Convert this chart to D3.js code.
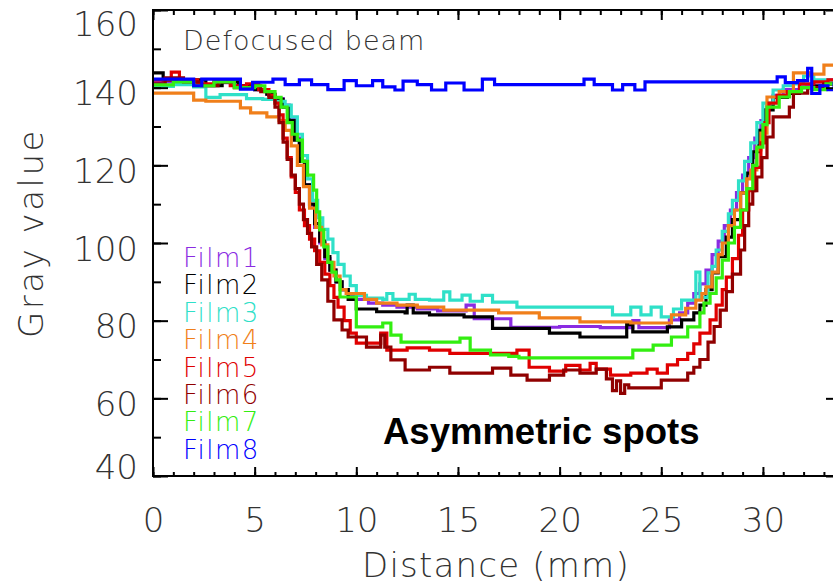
<!DOCTYPE html>
<html>
<head>
<meta charset="utf-8">
<script src="https://cdn.jsdelivr.net/npm/d3@7/dist/d3.min.js"></script>
<style>
  body { margin: 0; background: #fff; }
  svg { display: block; }
  text { font-family: "DejaVu Sans", sans-serif; }
</style>
</head>
<body>
<div id="chart"></div>
<script>
// profile data: [distance (mm), gray value]
var film1 = [[0,141.5],[1.0,142],[2.0,140.8],[3.0,141.3],[4.0,140.5],[5.0,139.5],[5.6,138.3],[6.0,137.2],[6.4,135.5],[6.7,132],[6.95,127],[7.2,121],[7.45,115],[7.7,109.5],[7.95,104],[8.2,100],[8.45,96],[8.7,93],[9.0,90],[9.3,88],[9.6,86.5],[10.0,85.5],[10.6,84.5],[11.3,84],[12.0,83.5],[13.0,83],[14.0,82.5],[15.4,84],[15.8,80.5],[17.6,78.3],[20.0,78.5],[22.0,78.2],[23.6,80],[23.9,78.2],[25.4,80.2],[25.9,82],[26.3,84.5],[26.6,87],[26.9,89.5],[27.2,93],[27.5,97],[27.8,100.5],[28.1,104.5],[28.4,108.5],[28.7,113],[29.0,117.5],[29.3,122],[29.6,127],[29.9,131.5],[30.2,135.5],[30.5,138],[31.0,139.5],[31.8,140.5],[32.5,141.5],[33.2,142],[33.84,142]];
var film2 = [[0,143.8],[0.5,142],[1.2,141],[2.0,142],[2.6,140.5],[3.4,141.5],[4.2,140.5],[5.0,139.5],[5.6,138.3],[6.0,137],[6.4,135],[6.7,131.5],[6.95,126.5],[7.2,121],[7.45,115],[7.7,110],[7.95,105],[8.2,100.5],[8.45,96.5],[8.7,93],[9.0,90],[9.3,88],[9.6,85.5],[10.0,83],[11.0,82.3],[12.4,82],[12.5,84],[12.8,82],[13.6,81.5],[15.3,81],[16.7,78],[19.5,76.8],[21.0,75.8],[23.3,79],[23.6,77.1],[25.3,78.4],[26.0,80.2],[26.6,82],[26.9,84],[27.2,88],[27.5,92.3],[27.8,96.5],[28.2,101.5],[28.5,106],[28.9,112.9],[29.2,118],[29.5,123.5],[29.8,129],[30.1,134.3],[30.5,137.5],[31.2,138.5],[31.8,140],[32.4,140.5],[33.0,141],[33.84,141.5]];
var film3 = [[0,140.3],[1.0,140.8],[2.0,140.2],[2.6,137.5],[3.3,138.2],[4.6,137.2],[5.4,137],[6.0,136.5],[6.5,135.5],[6.8,132.5],[7.1,128],[7.35,122.5],[7.6,116.5],[7.85,111],[8.1,106.5],[8.35,103.5],[8.6,101],[8.85,97.5],[9.1,94.5],[9.4,91.5],[9.7,89],[10.0,86.5],[10.5,85.8],[11.3,85.5],[11.5,87],[11.8,85.5],[12.6,86.8],[12.9,85.5],[13.6,85.3],[14.3,87.4],[14.6,85.3],[15.2,86.6],[15.6,85],[16.2,86.5],[16.7,84.8],[17.9,83.5],[22.6,81.5],[23.5,83.5],[24.0,81.5],[24.5,83.5],[25.0,81],[25.6,83],[26.0,85.3],[26.7,92.5],[26.9,86],[27.3,92.3],[27.5,94],[27.7,98.2],[28.0,103],[28.3,107.5],[28.5,111],[28.8,116],[29.1,121],[29.4,125.8],[29.7,131],[30.0,136],[30.5,139.4],[31.0,140.5],[31.5,141],[32.0,143],[32.5,142],[33.2,141.5],[33.84,142]];
var film4 = [[0,138.6],[2.0,136.8],[2.6,136.5],[4.3,134.8],[4.8,133.5],[5.6,132.5],[6.2,131.5],[6.5,129],[6.8,125],[7.1,120],[7.4,114.5],[7.7,109],[8.0,104],[8.3,99.5],[8.6,95],[8.9,91.5],[9.2,88],[9.5,87],[10.4,85.5],[11.0,84.5],[12.0,84],[13.0,83.5],[14.3,82.7],[17.0,82],[19.0,80.7],[21.0,79.7],[23.5,79.4],[25.5,81.5],[26.2,83.2],[26.7,85.3],[27.0,87],[27.2,88.7],[27.5,92.5],[27.8,97],[28.0,100],[28.3,104.5],[28.6,108.5],[28.9,112.9],[29.2,116.5],[29.4,118.8],[29.7,124],[29.9,128.3],[30.2,137.6],[30.8,139],[31.5,143.8],[32.3,143.5],[33.0,145.8],[33.84,145.8]];
var film5 = [[0,142],[0.9,144],[1.3,142],[2.2,141],[3.0,142],[3.8,140.5],[4.6,141],[5.2,139.5],[5.7,138],[6.0,136],[6.2,133],[6.4,127],[6.6,122],[6.8,117],[7.0,113],[7.2,108.5],[7.45,104.5],[7.7,101],[7.95,98],[8.2,95],[8.45,92],[8.7,89],[8.9,86],[9.1,83.5],[9.4,80],[9.7,76.8],[10.0,74.2],[11.2,76.8],[11.5,72.4],[12.5,73],[13.6,72.4],[14.6,71.6],[17.9,72.4],[18.5,68],[19.5,67],[20.3,68.5],[21.0,67.3],[21.5,69],[21.8,67.5],[22.5,66],[23.5,66.5],[24.3,67.5],[24.8,66.5],[25.3,68.6],[25.8,70],[26.3,71.6],[26.6,74],[26.9,76.8],[27.4,80.2],[27.7,84],[28.0,88],[28.2,91.2],[28.5,96],[28.8,102],[29.0,108.5],[29.3,113.5],[29.6,119.5],[29.9,125.8],[30.1,131],[30.3,136],[30.7,138],[31.2,139],[31.8,141],[32.5,141.5],[33.2,142],[33.84,141]];
var film6 = [[0,141],[0.6,142.5],[1.5,141.5],[2.4,140.5],[3.2,141.5],[4.0,140],[4.8,140.5],[5.3,139],[5.7,137.5],[6.0,135],[6.2,131],[6.4,126],[6.6,121.5],[6.8,117.5],[7.0,114],[7.2,110],[7.4,106],[7.6,102.5],[7.8,99],[8.05,94.5],[8.3,90.5],[8.6,85],[8.9,80.2],[9.3,77.6],[9.6,75.8],[10.5,73.2],[11.2,76.3],[11.4,73.2],[11.7,69.9],[12.4,67.3],[13.6,68],[14.6,66.5],[16.7,67.8],[17.6,66],[18.4,64.7],[19.5,66],[20.2,67.3],[21.0,66.5],[21.8,67.5],[22.3,65],[22.6,62],[22.8,64.5],[23.0,61.3],[23.2,63.5],[23.4,62.7],[25.0,64.7],[26.3,66.5],[26.6,68],[26.9,70],[27.3,74.5],[27.6,78.5],[27.9,82.7],[28.2,87.5],[28.5,92],[28.9,98.2],[29.1,104.5],[29.3,110],[29.5,113.5],[29.7,117],[29.95,122],[30.2,127.3],[30.5,132.5],[31.3,135],[31.5,138.6],[32.2,140],[33.0,141],[33.84,140.5]];
var film7 = [[0,140.7],[1.0,141.5],[2.0,140.5],[3.0,141.5],[4.0,140],[5.0,140.5],[5.5,139],[6.0,137.5],[6.3,135],[6.6,131],[6.85,128],[7.1,126.5],[7.35,121],[7.6,117.5],[7.9,113.6],[8.05,108],[8.2,103.4],[8.4,99],[8.6,95],[8.8,92.5],[9.0,90.5],[9.2,86.1],[9.7,86.1],[10.0,78.4],[11.3,79.4],[11.7,76.3],[12.2,74.5],[13.6,74.5],[15.1,75.5],[15.6,72.4],[16.6,71.2],[17.5,70.8],[18.0,70.4],[23.6,72.4],[24.6,73.7],[25.5,75.8],[26.3,78.4],[26.9,82],[27.1,84.5],[27.4,87],[27.7,91],[28.0,95.6],[28.3,100],[28.6,104],[28.9,108.5],[29.2,114],[29.5,120],[29.7,124.7],[30.0,130.5],[30.2,135],[30.8,137.6],[31.3,139],[31.9,140],[32.5,139.5],[33.1,141],[33.84,141.5]];
var film8 = [[0,142.2],[2.0,140.5],[2.4,142.2],[4.3,139.6],[4.9,141.4],[5.9,142.2],[6.5,140.8],[7.2,142.0],[7.8,140.8],[8.6,139.5],[9.4,141.8],[10.0,140.5],[10.8,141.8],[11.3,140.2],[11.9,139.4],[12.3,141.7],[13.0,140.8],[13.7,139.4],[14.4,141.2],[15.3,139.4],[16.2,142.2],[16.8,140.8],[21.2,142.2],[21.7,140.8],[22.6,139.4],[23.1,140.8],[23.7,139.4],[24.2,141.5],[30.7,142.8],[31.1,141.3],[31.7,141.8],[32.2,145],[32.4,138.5],[32.8,140.5],[33.2,139.5],[33.5,141],[33.84,141]];

var seriesNames = ["Film1", "Film2", "Film3", "Film4", "Film5", "Film6", "Film7", "Film8"];
var seriesColors = ["#8a2be2", "#000000", "#2fe0c8", "#f07f1a", "#e00000", "#900000", "#33ee11", "#0000ff"];
var seriesData = [film1, film2, film3, film4, film5, film6, film7, film8];

var xMajorTicks = [0, 5, 10, 15, 20, 25, 30];
var yMajorTicks = [40, 60, 80, 100, 120, 140, 160];

var chartW = 833, chartH = 585;
var plotL = 153, plotR = 841, plotT = 10, plotB = 476;

var svg = d3.select("#chart").append("svg")
    .attr("width", chartW)
    .attr("height", chartH);

var x = d3.scaleLinear().domain([0, 33.84]).range([plotL, plotR]);
var y = d3.scaleLinear().domain([40, 160]).range([plotB, plotT]);

svg.append("clipPath").attr("id", "plot")
    .append("rect")
    .attr("x", plotL).attr("y", plotT)
    .attr("width", plotR - plotL).attr("height", plotB - plotT);

// lines
var line = d3.line()
    .x(function(d) { return x(d[0]); })
    .y(function(d) { return y(d[1]); })
    .curve(d3.curveStepAfter);

svg.append("g").attr("clip-path", "url(#plot)")
    .selectAll("path")
    .data(seriesData)
    .enter().append("path")
    .attr("d", line)
    .attr("fill", "none")
    .attr("stroke", function(d, i) { return seriesColors[i]; })
    .attr("stroke-width", 3.2)
    .attr("stroke-linejoin", "miter");

// minor ticks
var xMinor = d3.range(0, 34, 1);
var yMinor = d3.range(40, 161, 10);

function noLabels(g) { g.select(".domain").remove(); g.selectAll("text").remove(); g.selectAll("line").attr("stroke-width", 2); }

svg.append("g").attr("transform", "translate(0," + plotB + ")")
    .call(d3.axisBottom(x).tickValues(xMinor).tickSize(-4)).call(noLabels);
svg.append("g").attr("transform", "translate(0," + plotT + ")")
    .call(d3.axisTop(x).tickValues(xMinor).tickSize(-5)).call(noLabels);
svg.append("g").attr("transform", "translate(0," + plotT + ")")
    .call(d3.axisTop(x).tickValues(xMajorTicks).tickSize(-10)).call(noLabels);
svg.append("g").attr("transform", "translate(" + plotL + ",0)")
    .call(d3.axisLeft(y).tickValues(yMinor).tickSize(-8)).call(noLabels);
svg.append("g").attr("transform", "translate(" + plotR + ",0)")
    .call(d3.axisRight(y).tickValues(yMinor).tickSize(-8)).call(noLabels);
svg.append("g").attr("transform", "translate(" + plotR + ",0)")
    .call(d3.axisRight(y).tickValues(yMajorTicks).tickSize(-15)).call(noLabels);

// major axes with labels
var xAxis = svg.append("g").attr("transform", "translate(0," + plotB + ")")
    .call(d3.axisBottom(x).tickValues(xMajorTicks).tickSize(-9).tickFormat(d3.format("d")));
xAxis.select(".domain").remove();
xAxis.selectAll("line").attr("stroke-width", 2);
xAxis.selectAll("text")
    .attr("y", 56).attr("dy", 0)
    .attr("fill", "#333")
    .style("font-size", "34px")
    .style("font-weight", 200);

var yAxis = svg.append("g").attr("transform", "translate(" + plotL + ",0)")
    .call(d3.axisLeft(y).tickValues(yMajorTicks).tickSize(-15).tickPadding(15));
yAxis.select(".domain").remove();
yAxis.selectAll("line").attr("stroke-width", 2);
yAxis.selectAll("text")
    .attr("dy", function(d) { return d === 160 ? 25 : (d === 40 ? 2 : 17); })
    .attr("fill", "#333")
    .style("font-size", "34px")
    .style("font-weight", 200);

// frame
svg.append("rect")
    .attr("x", plotL).attr("y", plotT)
    .attr("width", plotR - plotL).attr("height", plotB - plotT)
    .attr("fill", "none")
    .attr("stroke", "#000")
    .attr("stroke-width", 2);

// axis titles
svg.append("text")
    .attr("x", 496).attr("y", 577)
    .attr("text-anchor", "middle")
    .attr("fill", "#333")
    .style("font-size", "34px")
    .style("font-weight", 200)
    .style("letter-spacing", "1.2px")
    .text("Distance (mm)");

svg.append("text")
    .attr("transform", "translate(43,233) rotate(-90)")
    .attr("text-anchor", "middle")
    .attr("fill", "#333")
    .style("font-size", "34px")
    .style("font-weight", 200)
    .style("letter-spacing", "2.5px")
    .text("Gray value");

// annotations
svg.append("text")
    .attr("x", 183).attr("y", 50)
    .attr("fill", "#333")
    .style("font-size", "27px")
    .style("font-weight", 200)
    .style("letter-spacing", "1px")
    .text("Defocused beam");

svg.append("text")
    .attr("x", 383).attr("y", 444)
    .attr("fill", "#000")
    .style("font-family", "'Liberation Sans', Arial, sans-serif")
    .style("font-size", "36.5px")
    .style("font-weight", "bold")
    .text("Asymmetric spots");

// legend
svg.append("g").selectAll("text")
    .data(seriesNames)
    .enter().append("text")
    .attr("x", 183)
    .attr("y", function(d, i) { return 267 + i * 27.4; })
    .attr("fill", function(d, i) { return seriesColors[i]; })
    .style("font-size", "26px")
    .style("font-weight", 200)
    .style("letter-spacing", "1.5px")
    .text(function(d) { return d; });
</script>
</body>
</html>
